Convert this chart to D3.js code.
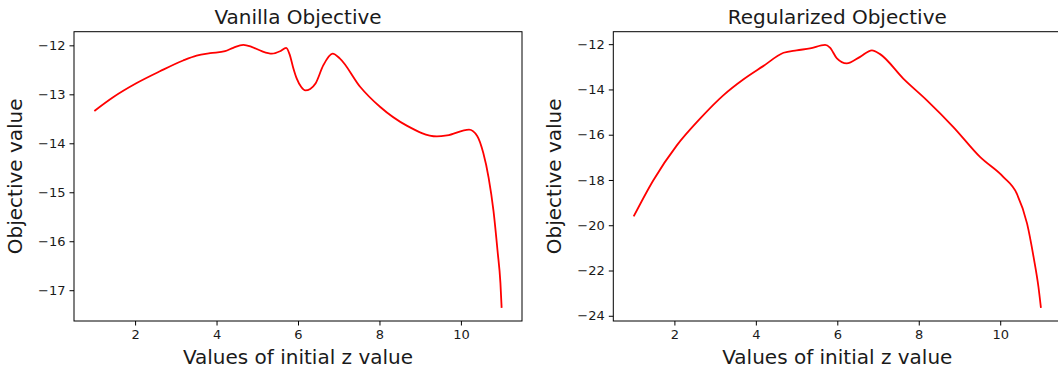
<!DOCTYPE html>
<html>
<head>
<meta charset="utf-8">
<script src="https://cdn.jsdelivr.net/npm/d3@7"></script>
<style>
  html, body { margin: 0; padding: 0; background: #fff; }
  svg { display: block; font-family: "DejaVu Sans", sans-serif; }
</style>
</head>
<body>
<div id="chart"></div>
<script>
// values
const zVanilla = [1.0, 1.46, 2.04, 2.61, 3.18, 3.51, 3.84, 4.21, 4.41, 4.66, 4.86, 5.11, 5.36, 5.56, 5.71, 5.8, 5.88, 5.97, 6.08, 6.18, 6.3, 6.43, 6.62, 6.85, 7.03, 7.53, 8.02, 8.67, 9.41, 9.66, 10.2, 10.4, 10.55, 10.68, 10.8, 10.9, 10.97, 11.0];
const vanilla = [-13.34, -13.06, -12.77, -12.53, -12.31, -12.21, -12.16, -12.12, -12.05, -11.99, -12.03, -12.12, -12.17, -12.12, -12.05, -12.2, -12.45, -12.68, -12.85, -12.92, -12.89, -12.78, -12.41, -12.17, -12.27, -12.85, -13.26, -13.64, -13.86, -13.84, -13.72, -13.85, -14.2, -14.7, -15.38, -16.2, -16.85, -17.36];

const zRegularized = [1.0, 1.48, 2.06, 2.63, 3.2, 3.69, 4.18, 4.68, 5.0, 5.33, 5.7, 5.82, 5.99, 6.23, 6.56, 6.85, 7.05, 7.62, 8.2, 8.85, 9.51, 10.08, 10.41, 10.66, 10.82, 10.94, 11.0];
const regularized = [-19.61, -18.02, -16.47, -15.29, -14.26, -13.56, -12.97, -12.38, -12.27, -12.19, -12.03, -12.15, -12.63, -12.85, -12.56, -12.27, -12.44, -13.52, -14.48, -15.66, -16.99, -17.87, -18.61, -19.93, -21.41, -22.74, -23.65];

const xTicks = [2, 4, 6, 8, 10];
const vanillaTicks = [-12, -13, -14, -15, -16, -17];
const regularizedTicks = [-12, -14, -16, -18, -20, -22, -24];

const titles = ["Vanilla Objective", "Regularized Objective"];
const xLabel = "Values of initial z value";
const yLabel = "Objective value";

const svgWidth = 1058, svgHeight = 370;
const svg = d3.select('#chart').append('svg')
  .attr('width', svgWidth)
  .attr('height', svgHeight);

drawPanel({ left: 74, xs: zVanilla, ys: vanilla, yTicks: vanillaTicks, title: titles[0] });
drawPanel({ left: 613.3, xs: zRegularized, ys: regularized, yTicks: regularizedTicks, title: titles[1] });

// matplotlib style 5% padding around the data range
function padded(values) {
  const [lo, hi] = d3.extent(values);
  const pad = (hi - lo) * 0.05;
  return [lo - pad, hi + pad];
}

function fmt(v) {
  return String(v).replace('-', '\u2212');
}

function drawPanel(p) {
  const top = 31.7, bottom = 321, width = 448;
  const tickLen = 4.5, tickPad = 4;

  const x = d3.scaleLinear().domain(padded(p.xs)).range([p.left, p.left + width]);
  const y = d3.scaleLinear().domain(padded(p.ys)).range([bottom, top]);

  const group = svg.append('g');

  group.append('g')
    .attr('transform', 'translate(0,' + bottom + ')')
    .call(d3.axisBottom(x).tickValues(xTicks).tickSize(tickLen).tickPadding(tickPad).tickFormat(fmt))
    .call(g => g.select('.domain').remove())
    .call(g => g.selectAll('text').attr('font-size', 13).attr('fill', '#1a1a1a').attr('font-family', '"DejaVu Sans"'))
    .call(g => g.selectAll('line').attr('stroke', '#000').attr('stroke-width', 1));

  group.append('g')
    .attr('transform', 'translate(' + p.left + ',0)')
    .call(d3.axisLeft(y).tickValues(p.yTicks).tickSize(tickLen).tickPadding(tickPad).tickFormat(fmt))
    .call(g => g.select('.domain').remove())
    .call(g => g.selectAll('text').attr('font-size', 13).attr('fill', '#1a1a1a').attr('font-family', '"DejaVu Sans"'))
    .call(g => g.selectAll('line').attr('stroke', '#000').attr('stroke-width', 1));

  const line = d3.line()
    .x((d, i) => x(p.xs[i]))
    .y(d => y(d))
    .curve(d3.curveMonotoneX);

  group.append('path')
    .datum(p.ys)
    .attr('fill', 'none')
    .attr('stroke', '#ff0000')
    .attr('stroke-width', 1.8)
    .attr('stroke-linejoin', 'round')
    .attr('stroke-linecap', 'butt')
    .attr('d', line);

  group.append('rect')
    .attr('x', p.left)
    .attr('y', top)
    .attr('width', width)
    .attr('height', bottom - top)
    .attr('fill', 'none')
    .attr('stroke', '#000')
    .attr('stroke-width', 1);

  group.append('text')
    .attr('x', p.left + width / 2)
    .attr('y', 23.5)
    .attr('text-anchor', 'middle')
    .attr('font-size', 20)
    .attr('fill', '#1a1a1a')
    .text(p.title);

  group.append('text')
    .attr('x', p.left + width / 2)
    .attr('y', 364)
    .attr('text-anchor', 'middle')
    .attr('font-size', 20)
    .attr('fill', '#1a1a1a')
    .text(xLabel);

  group.append('text')
    .attr('transform', 'translate(' + (p.left - 52) + ',' + (top + bottom) / 2 + ') rotate(-90)')
    .attr('text-anchor', 'middle')
    .attr('font-size', 20)
    .attr('fill', '#1a1a1a')
    .text(yLabel);
}
</script>
</body>
</html>
